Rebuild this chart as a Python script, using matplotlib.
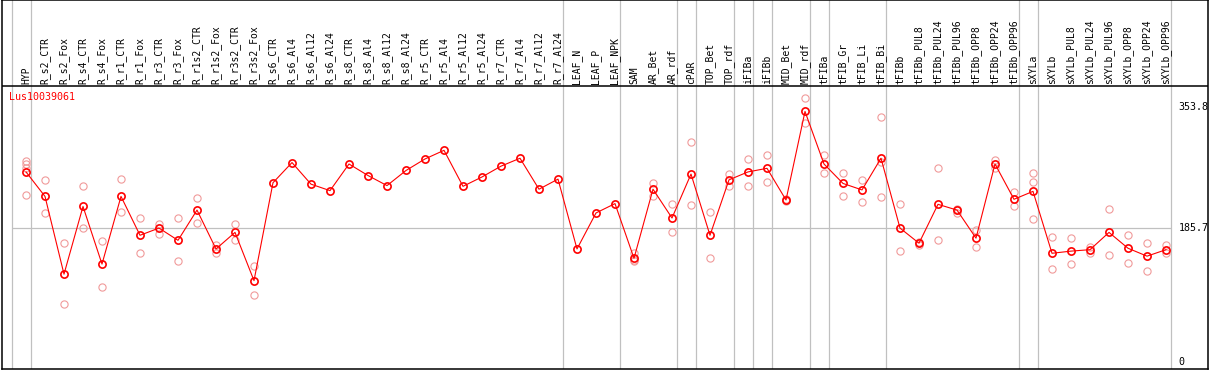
import matplotlib
matplotlib.use('Agg')
import matplotlib.pyplot as plt

gene = 'Lus10039061'

categories = [
    'HYP', 'R_s2_CTR', 'R_s2_Fox', 'R_s4_CTR', 'R_s4_Fox', 'R_r1_CTR', 'R_r1_Fox',
    'R_r3_CTR', 'R_r3_Fox', 'R_r1s2_CTR', 'R_r1s2_Fox', 'R_r3s2_CTR', 'R_r3s2_Fox',
    'R_s6_CTR', 'R_s6_Al4', 'R_s6_Al12', 'R_s6_Al24', 'R_s8_CTR', 'R_s8_Al4',
    'R_s8_Al12', 'R_s8_Al24', 'R_r5_CTR', 'R_r5_Al4', 'R_r5_Al12', 'R_r5_Al24',
    'R_r7_CTR', 'R_r7_Al4', 'R_r7_Al12', 'R_r7_Al24', 'LEAF_N', 'LEAF_P', 'LEAF_NPK',
    'SAM', 'AR_Bet', 'AR_rdf', 'cPAR', 'TOP_Bet', 'TOP_rdf', 'iFIBa', 'iFIBb',
    'MID_Bet', 'MID_rdf', 'tFIBa', 'tFIB_Gr', 'tFIB_Li', 'tFIB_Bi', 'tFIBb',
    'tFIBb_PUL8', 'tFIBb_PUL24', 'tFIBb_PUL96', 'tFIBb_OPP8', 'tFIBb_OPP24',
    'tFIBb_OPP96', 'sXYLa', 'sXYLb', 'sXYLb_PUL8', 'sXYLb_PUL24', 'sXYLb_PUL96',
    'sXYLb_OPP8', 'sXYLb_OPP24', 'sXYLb_OPP96',
]

means = [
    264, 230, 122, 216, 136, 230, 176, 186, 169, 211, 157, 180, 113,
    249, 277, 247, 238, 275, 259, 245, 266, 282, 294, 244, 257, 272, 283, 240, 254,
    157, 207, 220,
    144, 240, 200, 261, 176, 253, 264, 269, 225, 348,
    275, 248, 239, 283, 186, 165, 219, 211, 172, 275, 226,
    237, 151, 154, 156, 180, 158, 147, 156,
]

replicates = [
    [279, 275, 270, 232], [253, 207], [165, 81], [245, 186], [168, 104],
    [254, 208], [200, 152], [192, 178], [200, 140], [228, 193], [162, 151],
    [192, 170], [133, 93],
    [], [], [], [], [], [], [], [], [], [], [], [], [], [], [], [],
    [], [], [],
    [151, 140, 142], [248, 230], [219, 180], [305, 218], [208, 144], [261, 244],
    [282, 245], [288, 250], [226, 223], [366, 332],
    [287, 263], [263, 230], [253, 222], [340, 278, 229], [219, 154], [167, 163],
    [269, 170], [213, 207], [183, 160], [281, 269], [236, 217],
    [263, 250, 198], [173, 129], [172, 136], [160, 152], [212, 148], [177, 138],
    [165, 127], [162, 151],
]

# group borders: separator drawn right after these category indices
group_ends = [-1, 0, 28, 31, 34, 35, 37, 38, 39, 41, 42, 45, 52, 53, 60]

y_ticks = [353.8, 185.7, 0]
y_tick_labels = ['353.8', '185.7', '0']

W, H = 1209, 370
fig = plt.figure(figsize=(W / 100, H / 100), dpi=100)
ax = fig.add_axes([1.5 / W, 0.7 / H, 1206 / W, 369.3 / H])

# pixel mapping: x_px = 26 + 19*i ; y_px = 362 - 0.72*v
x0, dx = 26.0, 19.0
ax.set_xlim((1.5 - x0) / dx, (1207.5 - x0) / dx)
ax.set_ylim((362 - 369.3) / 0.72, (362 - 0.0) / 0.72)
ax.set_xticks([])
ax.set_yticks([])
for s in ax.spines.values():
    s.set_linewidth(1.1)
    s.set_color('black')

grey = '#c0c0c0'
sep_x = [g + 0.25 for g in group_ends]
for xs in sep_x:
    ax.axvline(xs, color=grey, lw=0.9, zorder=1)

# header divider
header_v = (362 - 85.7) / 0.72
ax.axhline(header_v, color='black', lw=1.1, zorder=2)

ax.hlines(y_ticks[1], sep_x[0], sep_x[-1], color=grey, lw=0.9, zorder=1)

mono = 'DejaVu Sans Mono'
label_v = (362 - 84.0) / 0.72
for i, name in enumerate(categories):
    ax.text(i, label_v, name, rotation=90, ha='center', va='bottom',
            fontsize=7, family=mono, color='black')

for val, lab in zip(y_ticks, y_tick_labels):
    ax.text(60.65, val, lab, ha='left', va='center', fontsize=7.2,
            family=mono, color='black', clip_on=True)

ax.text((9.5 - x0) / dx, (362 - 97) / 0.72, gene, ha='left', va='center',
        fontsize=7.2, family=mono, color='red')

xs_rep, ys_rep = [], []
for i, reps in enumerate(replicates):
    for r in reps:
        xs_rep.append(i)
        ys_rep.append(r)
ax.plot(xs_rep, ys_rep, linestyle='none', marker='o', markersize=5.2,
        markerfacecolor='none', markeredgecolor='#f09a9a', markeredgewidth=0.8,
        zorder=3)

ax.plot(range(len(means)), means, color='red', lw=0.8, marker='o',
        markersize=5.2, markerfacecolor='none', markeredgecolor='red',
        markeredgewidth=1.2, zorder=4)

fig.savefig('out.png', dpi=100)
